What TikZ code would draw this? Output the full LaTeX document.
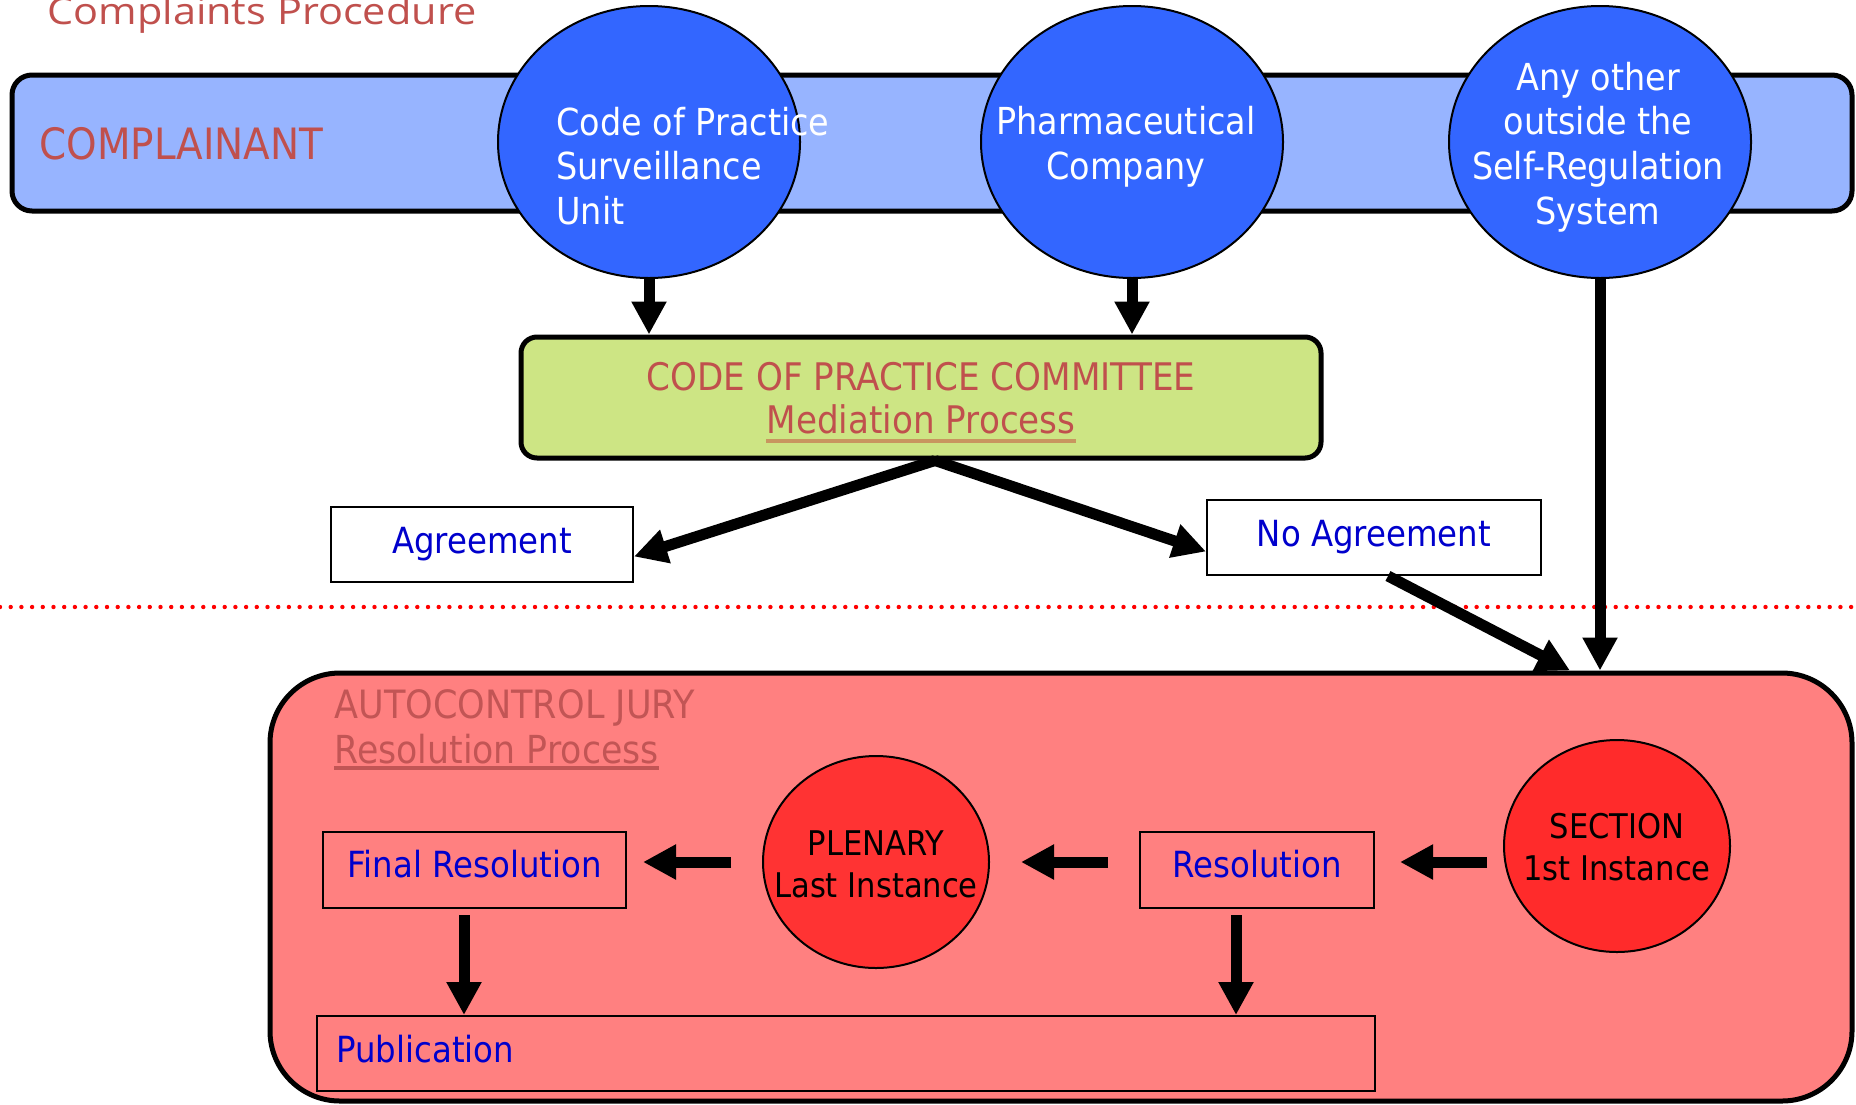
\documentclass[tikz,border=0pt]{standalone}
\usepackage{fontspec}
\setmainfont{DejaVu Sans}[FakeStretch=0.9]
\newfontfamily\titlefont{Open Sans}[FakeStretch=1.12]
\usetikzlibrary{arrows.meta,shapes.geometric,calc}
\definecolor{titlered}{HTML}{C0504D}
\definecolor{juryred}{HTML}{C25555}
\definecolor{bandblue}{HTML}{97B4FF}
\definecolor{ellblue}{HTML}{3366FF}
\definecolor{commgreen}{HTML}{CDE584}
\definecolor{blutext}{HTML}{0000CC}
\definecolor{jurypink}{HTML}{FF8080}
\definecolor{plenred}{HTML}{FF3333}
\definecolor{secred}{HTML}{FF2B2B}
\definecolor{ultan}{HTML}{C8965F}
\definecolor{dotred}{HTML}{FF0000}
\tikzset{
  bigarrow/.style={line width=5.5pt,-{Triangle[length=16.5pt,width=16.5pt]}},
  bigbox/.style={draw,line width=2.5pt,inner sep=0pt},
  blueell/.style={ellipse,draw,line width=1pt,fill=ellblue,minimum width=151pt,minimum height=136pt,inner sep=0pt},
  redell/.style={ellipse,draw,line width=1pt,minimum width=113pt,minimum height=106pt,inner sep=0pt},
  ellt/.style={text=white,inner sep=0pt,font=\fontsize{18.6}{22.4}\selectfont},
  redt/.style={text=black,inner sep=0pt,align=center,font=\fontsize{17}{21}\selectfont},
  headt/.style={inner sep=0pt,font=\fontsize{19}{22}\selectfont},
  thinbox/.style={draw,line width=1pt,inner sep=0pt,text=blutext,font=\fontsize{18}{22}\selectfont},
  dotline/.style={dotred,line width=2.2pt,line cap=round,dash pattern=on 0pt off 5.35pt},
}
\begin{document}
\begin{tikzpicture}[x=0.5pt,y=-0.5pt]
\path[use as bounding box,fill=white] (0,0) rectangle (1856,1104);

% title
\node[anchor=base west,inner sep=0pt,text=titlered,font=\titlefont\fontsize{18.5}{22}\selectfont] (title) at (47,24) {Complaints Procedure};

% complainant band
\node[bigbox,rounded corners=10pt,fill=bandblue,minimum width=920pt,minimum height=68pt] (band) at (932,143) {};
\node[anchor=west,inner sep=0pt,text=titlered,font=\fontsize{21.6}{25}\selectfont] (compl) at (39,144) {COMPLAINANT};

\node[blueell] (e1) at (649,142) {};
\node[blueell] (e2) at (1132,142) {};
\node[blueell] (e3) at (1600,142) {};
\node[ellt,anchor=west,align=left] (e1t) at (556,166) {Code of Practice\\Surveillance\\Unit};
\node[ellt,align=center] (e2t) at (1126,147) {Pharmaceutical\\Company};
\node[ellt,align=center] (e3t) at (1598,147) {Any other\\outside the\\Self-Regulation\\System};

% committee
\node[bigbox,rounded corners=8pt,fill=commgreen,minimum width=400pt,minimum height=60.5pt] (comm) at (921,397.5) {};
\node[headt,anchor=base,text=titlered] (commt) at (921,390) {CODE OF PRACTICE COMMITTEE};
\node[headt,anchor=base,text=titlered] (medp) at (921,433) {Mediation Process};
\draw[ultan,line width=1.6pt] ([yshift=-4pt]medp.base west) -- ([yshift=-4pt]medp.base east);

\draw[bigarrow] (e1.south) -- (e1.south |- comm.north);
\draw[bigarrow] (e2.south) -- (e2.south |- comm.north);

% agreement boxes
\node[thinbox,fill=white,minimum width=151pt,minimum height=37.5pt] (agree) at (482,544.5) {Agreement};
\node[thinbox,fill=white,minimum width=167pt,minimum height=37.5pt] (noag) at (1374,537.5) {No Agreement};
\draw[bigarrow] ([xshift=7pt]comm.south) -- ([yshift=-6pt]agree.east);
\draw[bigarrow] ([xshift=7pt]comm.south) -- ([yshift=-7pt]noag.west);

% dotted divider
\coordinate (dl) at (0,607);
\coordinate (dr) at (1856,607);
\draw[dotline] (dl) -- (dr);

% jury
\node[bigbox,rounded corners=35pt,fill=jurypink,minimum width=791pt,minimum height=214pt] (jury) at (1061,887) {};
\node[headt,anchor=base west,text=juryred,font=\fontsize{19.5}{22}\selectfont] (jt1) at (334,718) {AUTOCONTROL JURY};
\node[headt,anchor=base west,text=juryred,font=\fontsize{19.3}{22}\selectfont] (jt2) at (334,763) {Resolution Process};
\draw[juryred,line width=1.6pt] ([yshift=-2.5pt]jt2.base west) -- ([yshift=-2.5pt]jt2.base east);

\draw[bigarrow] ([xshift=7pt]noag.south) -- ([xshift=254.5pt]jury.north);
\draw[bigarrow] (e3.south) -- (e3.south |- jury.north);

\node[thinbox,minimum width=151.5pt,minimum height=38pt,text height=13.7pt,text depth=6pt] (fin) at (474.5,870) {Final Resolution};
\node[thinbox,minimum width=117pt,minimum height=38pt,text height=13.7pt,text depth=6pt] (res) at (1257,870) {Resolution};
\node[thinbox,minimum width=529pt,minimum height=37.5pt] (pub) at (846,1053.5) {};
\node[anchor=west,inner sep=0pt,text=blutext,font=\fontsize{18}{22}\selectfont] (pubt) at ([xshift=10pt,yshift=2pt]pub.west) {Publication};

\node[redell,fill=plenred] (plen) at (876,862) {};
\node[redell,fill=secred] (sec) at (1617,846) {};
\node[redt] (plent) at (876,864) {PLENARY\\Last Instance};
\node[redt] (sect) at (1617,847.5) {SECTION\\1st Instance};

\draw[bigarrow,shorten <=8pt,shorten >=12.5pt] (sec.west |- plen.center) -- (res.east |- plen.center);
\draw[bigarrow,shorten <=15.5pt,shorten >=15.5pt] (res.west |- plen.center) -- (plen.east);
\draw[bigarrow,shorten <=15.5pt,shorten >=8pt] (plen.west) -- (fin.east |- plen.center);

\coordinate (fa) at ([xshift=-5.25pt]fin.south);
\coordinate (ra) at ([xshift=-10.5pt]res.south);
\draw[bigarrow,shorten <=3pt] (fa) -- (fa |- pub.north);
\draw[bigarrow,shorten <=3pt] (ra) -- (ra |- pub.north);
\end{tikzpicture}
\end{document}
